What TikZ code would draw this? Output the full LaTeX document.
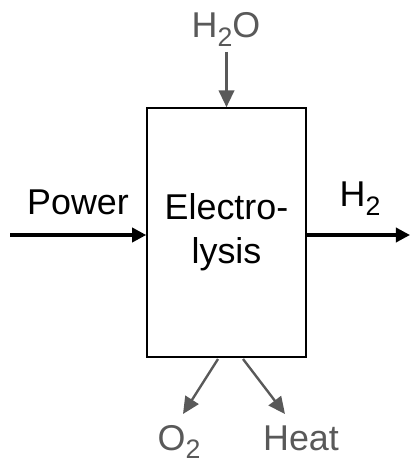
\documentclass[tikz,border=0pt]{standalone}
\usepackage{fontspec}
\setmainfont{Liberation Sans}
\usetikzlibrary{arrows.meta, positioning}

\definecolor{flowgray}{HTML}{595959}
\newcommand{\lowsub}[1]{\raisebox{-0.25em}{\fontsize{19}{19}\selectfont #1}}

\begin{document}
\begin{tikzpicture}[x=0.025cm, y=-0.025cm,
  lbl/.style={font=\fontsize{25.5}{30}\selectfont, inner sep=0pt, anchor=base},
  mainflow/.style={line width=2.4pt, -{Triangle[length=10pt, width=10pt]}},
  sideflow/.style={line width=1.7pt, flowgray, -{Triangle[length=12pt, width=11pt]}}]
\useasboundingbox (0,0) rectangle (410,464);
% unit
\node[draw, line width=1.1pt, minimum width=159*0.025cm, minimum height=249*0.025cm,
  align=center, font=\fontsize{25.5}{31.5}\selectfont, inner sep=0pt] (box) at (226.5,232.5)
  {Electro-\\lysis};
% inputs
\node[lbl] (power) at (78,215) {Power};
\node[lbl, flowgray] (water) at (226,38) {H\lowsub{2}O};
\coordinate (powerin) at (10,235);
\coordinate (waterin) at (226.5,52);
\draw[mainflow] (powerin) -- (powerin -| box.west);
\draw[sideflow] (waterin) -- (box.north);
% outputs
\node[lbl] (hydrogen) at (360,207) {H\lowsub{2}};
\node[lbl, flowgray] (oxygen) at (179,450) {O\lowsub{2}};
\node[lbl, flowgray] (heat) at (301,450) {Heat};
\coordinate (hydrogenout) at (410,235);
\coordinate (oxygenstart) at (218,359);
\coordinate (oxygenout) at (183,414);
\coordinate (heatstart) at (243,359);
\coordinate (heatout) at (285,414);
\draw[mainflow] (hydrogenout -| box.east) -- (hydrogenout);
\draw[sideflow] (oxygenstart) -- (oxygenout);
\draw[sideflow] (heatstart) -- (heatout);
\end{tikzpicture}
\end{document}
